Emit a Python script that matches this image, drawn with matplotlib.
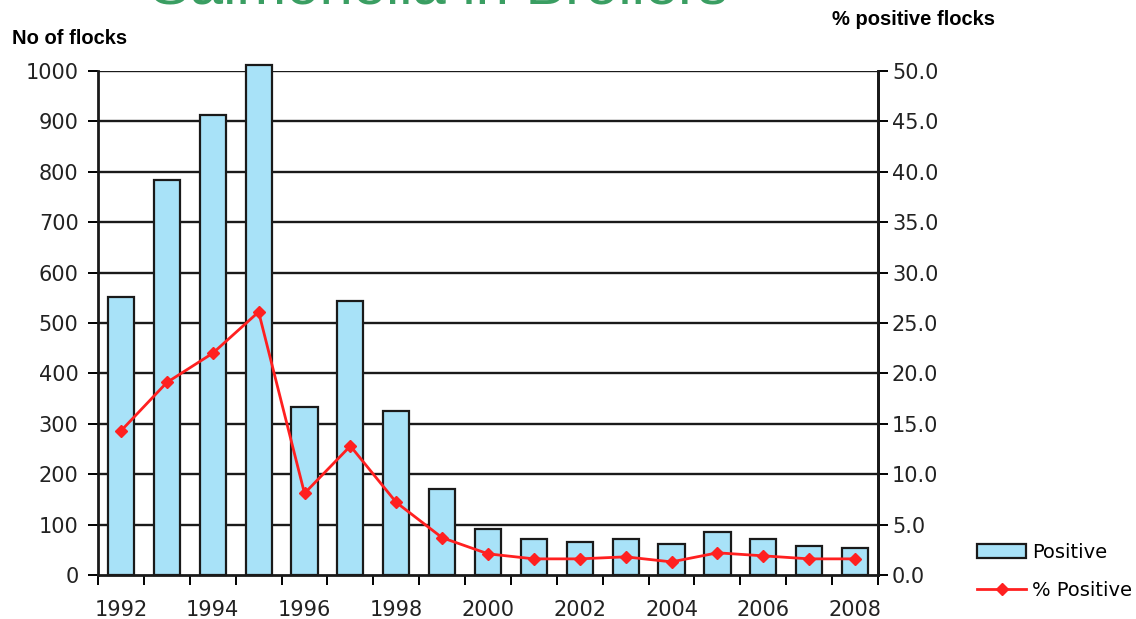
import numpy as np
import matplotlib.pyplot as plt
from matplotlib.patches import Patch
from matplotlib.lines import Line2D

years = list(range(1992, 2009))
positive = [551, 784, 913, 1012, 333, 544, 325, 171, 91, 71, 65, 71, 62, 85, 71, 58, 54]
pct_positive = [14.3, 19.1, 22.0, 26.1, 8.1, 12.8, 7.2, 3.7, 2.1, 1.6, 1.6, 1.8, 1.3, 2.2, 1.9, 1.6, 1.6]

plt.rcParams['font.family'] = 'DejaVu Sans'
fig = plt.figure(figsize=(11.36, 6.19), dpi=100)
ax = fig.add_axes([0.0863, 0.0711, 0.6866, 0.8142])
ax2 = ax.twinx()

x = np.arange(len(years))
ax.bar(x, positive, width=0.57, color='#a8e2f8', edgecolor='#1a1a1a',
       linewidth=1.6, clip_on=False, zorder=3)

# horizontal grid at every 100 flocks
for v in range(100, 1001, 100):
    ax.axhline(v, color='#1a1a1a', lw=1.7, zorder=1)

ax.set_xlim(-0.5, len(years) - 0.5)
ax.set_ylim(0, 1000)
ax.set_yticks(range(0, 1001, 100))
ax.tick_params(axis='y', direction='out', length=7, width=1.4, labelsize=15,
               labelcolor='#222222', pad=7)

# ticks on category boundaries, labels every second year
ax.set_xticks(np.arange(-0.5, len(years)), minor=True)
ax.set_xticks(x[::2])
ax.set_xticklabels([str(y) for y in years[::2]])
ax.tick_params(axis='x', which='minor', direction='out', length=7, width=1.4)
ax.tick_params(axis='x', which='major', length=0, labelsize=15,
               labelcolor='#222222', pad=18)

for side in ['left', 'right', 'bottom']:
    ax.spines[side].set_linewidth(2)
    ax.spines[side].set_color('#1a1a1a')
ax.spines['top'].set_visible(False)

ax2.plot(x, pct_positive, color='#ff2020', lw=2, marker='D', markersize=6,
         zorder=4)
ax2.set_ylim(0, 50)
ax2.set_yticks(np.arange(0, 50.1, 5))
ax2.set_yticklabels(['%.1f' % v for v in np.arange(0, 50.1, 5)])
ax2.tick_params(axis='y', direction='out', length=7, width=1.4, labelsize=15,
                labelcolor='#222222', pad=3)
for side in ['top', 'left', 'bottom']:
    ax2.spines[side].set_visible(False)
ax2.spines['right'].set_linewidth(2)
ax2.spines['right'].set_color('#1a1a1a')
ax.set_zorder(ax2.get_zorder() - 1)
ax.patch.set_visible(True)
ax2.patch.set_visible(False)

fig.text(0.132, 0.994, 'Salmonella in Broilers', color='#3a9e62',
         fontsize=43, family='Liberation Sans', ha='left', va='baseline')
fig.text(0.011, 0.938, 'No of flocks', fontsize=14.5, fontweight='bold',
         family='Liberation Sans', ha='left', va='center')
fig.text(0.732, 0.968, '% positive flocks', fontsize=14.5, fontweight='bold',
         family='Liberation Sans', ha='left', va='center')

handles = [Patch(facecolor='#a8e2f8', edgecolor='#1a1a1a', linewidth=1.6),
           Line2D([], [], color='#ff2020', lw=2, marker='D', markersize=6)]
fig.legend(handles, ['Positive', '% Positive'], loc='center left',
           bbox_to_anchor=(0.845, 0.077), frameon=False, fontsize=14,
           handlelength=2.5, handletextpad=0.3, labelspacing=1.0)

fig.savefig('out.png', dpi=100)
